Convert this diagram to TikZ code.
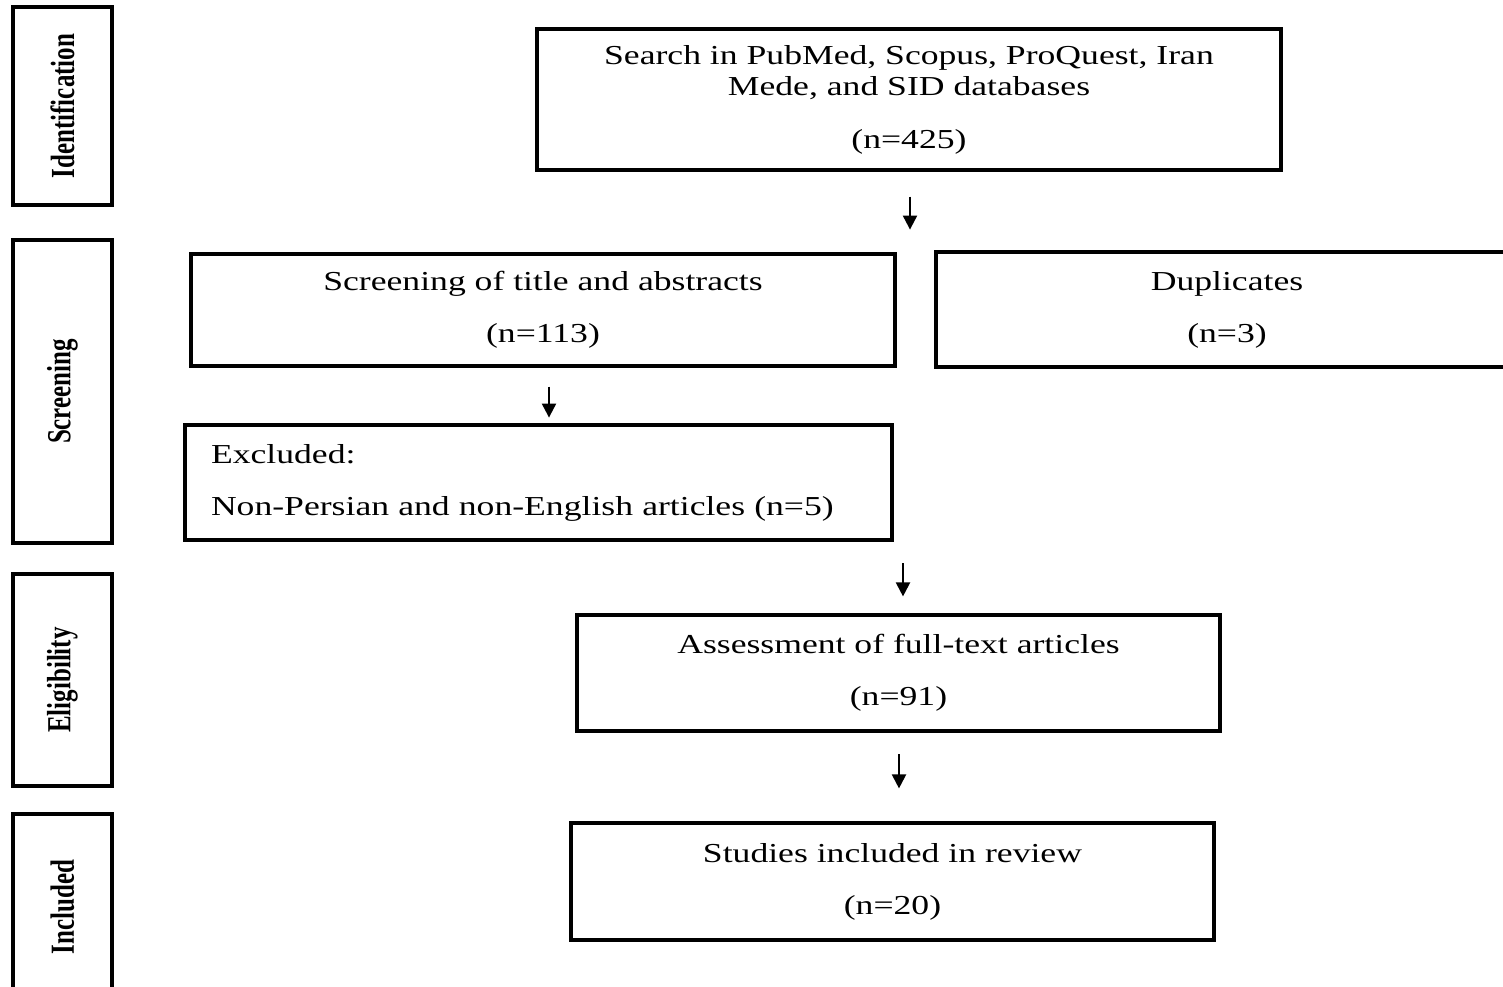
\documentclass[tikz,border=0pt]{standalone}
\usepackage{fontspec}
\setmainfont{Liberation Serif}[FakeStretch=1.3]
\newfontfamily\sidefont{Liberation Serif}
\usepackage{graphicx}
\usetikzlibrary{arrows.meta}

\begin{document}
\begin{tikzpicture}[
    box/.style={draw, line width=0.9pt, align=center, inner sep=0pt, font=\fontsize{7.8}{8.8}\selectfont},
    stage/.style={draw, line width=0.9pt, rotate=90, minimum height=0.99cm, inner sep=0pt, font=\sidefont\bfseries\fontsize{7.1}{8}\selectfont},
    arr/.style={-{Triangle[width=4pt, length=4pt]}, line width=0.6pt}
]

    \clip (0, 0) rectangle (15.03, -9.87);

    % stages on the left
    \node[stage, minimum width=1.98cm] (ident) at (0.625, -1.06) {\scalebox{1}[1.35]{Identification}};
    \node[stage, minimum width=3.03cm] (screenlbl) at (0.625, -3.915) {\scalebox{1}[1.35]{Screening}};
    \node[stage, minimum width=2.12cm] (elig) at (0.625, -6.80) {\scalebox{1}[1.35]{Eligibility}};
    \node[stage, minimum width=1.86cm] (incl) at (0.625, -9.07) {\scalebox{1}[1.35]{Included}};

    % flow boxes
    \node[box, minimum width=7.44cm, minimum height=1.41cm] (search) at (9.09, -0.995)
        {Search in PubMed, Scopus, ProQuest, Iran\\Mede, and SID databases\\[6.3pt](n=425)};
    \node[box, minimum width=7.04cm, minimum height=1.12cm] (screen) at (5.43, -3.10)
        {Screening of title and abstracts\\[6pt](n=113)};
    \node[box, minimum width=5.82cm, minimum height=1.15cm] (dup) at (12.27, -3.095)
        {Duplicates\\[6pt](n=3)};
    \node[box, align=left, text width=6.55cm, minimum width=7.07cm, minimum height=1.15cm] (excl) at (5.385, -4.825)
        {Excluded:\\[6pt]Non-Persian and non-English articles (n=5)};
    \node[box, minimum width=6.43cm, minimum height=1.16cm] (assess) at (8.985, -6.73)
        {Assessment of full-text articles\\[6pt](n=91)};
    \node[box, minimum width=6.43cm, minimum height=1.17cm] (studies) at (8.925, -8.815)
        {Studies included in review\\[6pt](n=20)};

    % arrows
    \draw[arr] ([xshift=0.01cm]search.south) ++(0, -0.25) -- ++(0, -0.33);
    \draw[arr] ([xshift=0.06cm]screen.south) ++(0, -0.19) -- ++(0, -0.31);
    \draw[arr] ([xshift=0.045cm]assess.north) ++(0, 0.50) -- ++(0, -0.33);
    \draw[arr] ([xshift=0.065cm]studies.north) ++(0, 0.67) -- ++(0, -0.34);

\end{tikzpicture}
\end{document}
